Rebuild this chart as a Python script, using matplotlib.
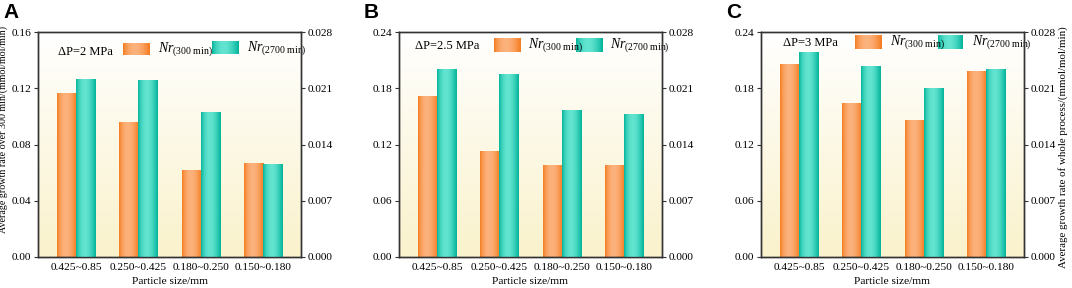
import numpy as np
import matplotlib
matplotlib.use("Agg")
import matplotlib.pyplot as plt
from matplotlib.colors import to_rgb

plt.rcParams['font.family'] = ['Liberation Serif', 'DejaVu Serif']
plt.rcParams['mathtext.fontset'] = 'custom'
plt.rcParams['mathtext.rm'] = 'Liberation Serif'
plt.rcParams['mathtext.it'] = 'Liberation Serif:italic'

categories = ["0.425~0.85", "0.250~0.425", "0.180~0.250", "0.150~0.180"]
panel_labels = ["A", "B", "C"]
pressures = ["ΔP=2 MPa", "ΔP=2.5 MPa", "ΔP=3 MPa"]
nr300_A = [0.1166, 0.0953, 0.0614, 0.0666]
nr300_B = [0.1707, 0.1127, 0.0974, 0.0971]
nr300_C = [0.2055, 0.1639, 0.1454, 0.1977]
nr2700_A = [0.02203, 0.02191, 0.0180, 0.01157]
nr2700_B = [0.02328, 0.02269, 0.01829, 0.01768]
nr2700_C = [0.02539, 0.02365, 0.02099, 0.02336]
left_ticks_A = [0.00, 0.04, 0.08, 0.12, 0.16]
left_ticks_BC = [0.00, 0.06, 0.12, 0.18, 0.24]
right_ticks = [0.000, 0.007, 0.014, 0.021, 0.028]

nr300 = [nr300_A, nr300_B, nr300_C]
nr2700 = [nr2700_A, nr2700_B, nr2700_C]
left_ticks = [left_ticks_A, left_ticks_BC, left_ticks_BC]

ORANGE_DARK, ORANGE_LIGHT = "#f47a1c", "#fcb27c"
TEAL_DARK, TEAL_LIGHT = "#00b299", "#62e4d0"


def cyl_gradient(dark, light, n=64):
    d = np.array(to_rgb(dark)); l = np.array(to_rgb(light))
    xx = np.linspace(0, 1, n)
    f = np.clip(np.sin(np.pi * xx ** 0.85), 0, 1) ** 0.9
    img = d[None, :] + (l - d)[None, :] * f[:, None]
    return img[None, :, :]


orange_img = cyl_gradient(ORANGE_DARK, ORANGE_LIGHT)
teal_img = cyl_gradient(TEAL_DARK, TEAL_LIGHT)

bg_top = np.array(to_rgb("#ffffff")); bg_bot = np.array(to_rgb("#faf2cc"))
t = np.linspace(0, 1, 128)[:, None]
bg_img = (bg_top[None, :] * (1 - t) + bg_bot[None, :] * t)[:, None, :]

fig = plt.figure(figsize=(10.72, 2.88), dpi=100)
lefts = [38 / 1072, 399 / 1072, 761 / 1072]
W = 263 / 1072
B = 1 - 257 / 288
H = 225 / 288

legend_pos = [
    dict(tx=0.076, ty=0.911, o=(0.323, 0.422, 0.898, 0.951), t=(0.662, 0.764, 0.902, 0.956), n1=0.456, n2=0.795),
    dict(tx=0.061, ty=0.938, o=(0.361, 0.460, 0.911, 0.969), t=(0.673, 0.772, 0.911, 0.969), n1=0.491, n2=0.802),
    dict(tx=0.084, ty=0.951, o=(0.357, 0.456, 0.924, 0.982), t=(0.673, 0.768, 0.924, 0.982), n1=0.490, n2=0.802),
]

x = np.arange(len(categories))
bw = 0.305
spine_col = "#333333"
xl = (-0.61, len(categories) - 1 + 0.61)
FS = 8.2

for i in range(3):
    ax = fig.add_axes([lefts[i], B, W, H])
    ax2 = ax.twinx()

    ax.imshow(bg_img, extent=[0, 1, 0, 1], transform=ax.transAxes, aspect='auto', zorder=0)

    bars1 = ax.bar(x - bw / 2, nr300[i], width=bw, color='none', edgecolor='none', zorder=2)
    bars2 = ax2.bar(x + bw / 2, nr2700[i], width=bw, color='none', edgecolor='none', zorder=2)
    for b in bars1:
        ax.imshow(orange_img, extent=[b.get_x(), b.get_x() + b.get_width(), 0, b.get_height()],
                  aspect='auto', zorder=2, interpolation='bilinear')
    for b in bars2:
        ax2.imshow(teal_img, extent=[b.get_x(), b.get_x() + b.get_width(), 0, b.get_height()],
                   aspect='auto', zorder=2, interpolation='bilinear')
    ax.set_xlim(*xl)
    ax.set_ylim(0, left_ticks[i][-1])
    ax2.set_xlim(*xl)
    ax2.set_ylim(0, right_ticks[-1])

    ax.set_xticks(x)
    ax.set_xticklabels(categories, fontsize=FS)
    ax.set_yticks(left_ticks[i])
    ax.set_yticklabels([f"{v:.2f}" for v in left_ticks[i]], fontsize=FS)
    ax2.set_yticks(right_ticks)
    ax2.set_yticklabels([f"{v:.3f}" for v in right_ticks], fontsize=FS)
    ax.tick_params(axis='x', direction='in', length=3, color=spine_col, pad=4)
    ax.tick_params(axis='y', direction='out', length=3, color=spine_col, pad=2)
    ax2.tick_params(axis='y', direction='out', length=3, color=spine_col, pad=2)
    for a in (ax, ax2):
        for s in a.spines.values():
            s.set_color(spine_col)
            s.set_linewidth(1.0)
    ax.set_xlabel("Particle size/mm", fontsize=FS, labelpad=4)

    lp = legend_pos[i]
    ax.text(lp['tx'], lp['ty'], pressures[i], transform=ax.transAxes, fontsize=9,
            va='center', ha='left', zorder=5)
    for (x0, x1, y0, y1), img in ((lp['o'], orange_img), (lp['t'], teal_img)):
        ax.imshow(img, extent=[x0, x1, y0, y1], transform=ax.transAxes, aspect='auto',
                  zorder=5, interpolation='bilinear')
    oy = (lp['o'][2] + lp['o'][3]) / 2
    ty = (lp['t'][2] + lp['t'][3]) / 2
    ax.text(lp['n1'], oy, r"$\mathit{Nr}_{\mathrm{(300\ min)}}$", transform=ax.transAxes,
            fontsize=10, va='center', ha='left', zorder=5)
    ax.text(lp['n2'], ty, r"$\mathit{Nr}_{\mathrm{(2700\ min)}}$", transform=ax.transAxes,
            fontsize=10, va='center', ha='left', zorder=5)
    ax.set_xlim(*xl)
    ax.set_ylim(0, left_ticks[i][-1])

    fig.text(lefts[i] - 35 / 1072, 1 - 13 / 288, panel_labels[i], fontsize=15, fontweight='bold',
             family='Liberation Sans', va='center', ha='left')

    if i == 0:
        ax.set_ylabel("Average growth rate over 300 min/(mmol/mol/min)", fontsize=7.2)
        ax.yaxis.set_label_coords(-0.114, 0.569)
    if i == 2:
        ax2.set_ylabel("Average growth rate of whole process/(mmol/mol/min)", fontsize=7.8,
                       rotation=90, va='center')
        ax2.yaxis.set_label_coords(1.148, 0.489)

fig.savefig("out.png", dpi=100)
